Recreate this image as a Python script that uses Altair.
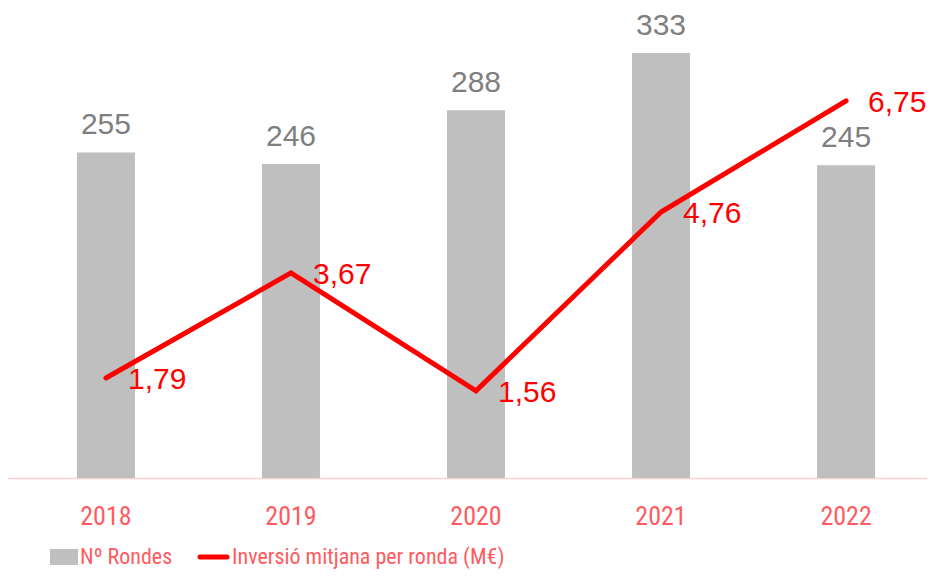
import altair as alt
import pandas as pd

years = ["2018", "2019", "2020", "2021", "2022"]
rondes = [255, 246, 288, 333, 245]
inversio = [1.79, 3.67, 1.56, 4.76, 6.75]
inversio_labels = ["1,79", "3,67", "1,56", "4,76", "6,75"]
legend_names = ["Nº Rondes", "Inversió mitjana per ronda (M€)"]

df = pd.DataFrame({"year": years, "rondes": rondes, "inv": inversio, "inv_lbl": inversio_labels})

GREY = "#bfbfbf"
RED = "#ff0000"
SALMON = "#ff5b5f"
NARROW = "Roboto Condensed, Liberation Sans Narrow, DejaVu Sans Condensed, sans-serif"
SANS = "Liberation Sans, Arial, Helvetica, sans-serif"

x = alt.X(
    "year:N",
    title=None,
    scale=alt.Scale(range=[-1, 937], paddingInner=0.6865, paddingOuter=0.378),
    axis=alt.Axis(
        labelAngle=0,
        labelColor=SALMON,
        labelFont=NARROW,
        labelFontSize=26,
        labelPadding=25,
        domainColor="#ffd0d0",
        domainWidth=1.5,
        ticks=False,
        grid=False,
    ),
)

ybar = alt.Y("rondes:Q", scale=alt.Scale(domain=[0, 368.2]), axis=None)
yline = alt.Y("inv:Q", scale=alt.Scale(domain=[0, 8.41]), axis=None)

bars = alt.Chart(df).mark_bar(color=GREY).encode(x=x, y=ybar)
bar_text = alt.Chart(df).mark_text(
    color="#7f7f7f", font=SANS, fontSize=30, baseline="alphabetic", dy=-18
).encode(x=x, y=ybar, text="rondes:Q")

line = alt.Chart(df).mark_line(color=RED, strokeWidth=5, strokeCap="round").encode(x=x, y=yline)
line_text = alt.Chart(df).mark_text(
    color=RED, font=SANS, fontSize=30, align="left", baseline="middle", dx=22, dy=2
).encode(x=x, y=yline, text="inv_lbl:N")

one = pd.DataFrame({"k": [0]})
leg_rect = alt.Chart(one).mark_rect(color=GREY).encode(
    x=alt.value(42), x2=alt.value(70), y=alt.value(541), y2=alt.value(557)
)
leg_rule = alt.Chart(one).mark_rule(color=RED, strokeWidth=5, strokeCap="round").encode(
    x=alt.value(192), x2=alt.value(219), y=alt.value(549)
)
leg_t1 = alt.Chart(one).mark_text(
    text=legend_names[0], color=SALMON, font=NARROW, fontSize=22, align="left", baseline="middle"
).encode(x=alt.value(72), y=alt.value(549))
leg_t2 = alt.Chart(one).mark_text(
    text=legend_names[1], color=SALMON, font=NARROW, fontSize=22, align="left", baseline="middle"
).encode(x=alt.value(224), y=alt.value(549))

chart = (
    alt.layer(bars, bar_text, line, line_text, leg_rect, leg_rule, leg_t1, leg_t2)
    .resolve_scale(y="independent")
    .properties(
        width=919,
        height=470,
        autosize=alt.AutoSizeParams(type="none"),
        padding={"left": 0, "top": 0, "right": 0, "bottom": 93},
    )
    .configure_view(stroke=None)
)

chart.save("out.html", embed_options={"renderer": "svg", "actions": False})
